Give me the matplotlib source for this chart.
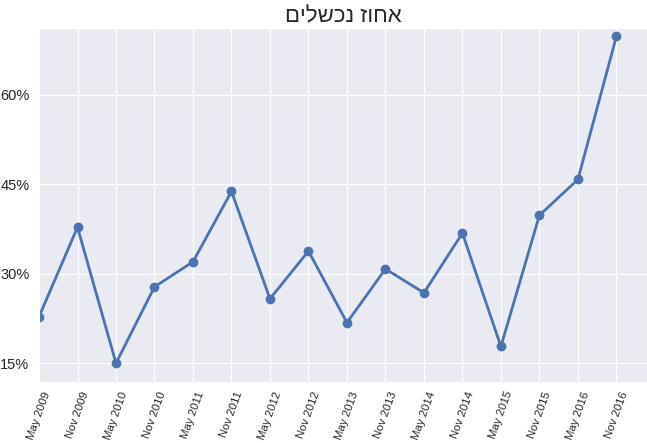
import numpy as np
import matplotlib
matplotlib.use("Agg")
import matplotlib.pyplot as plt
import seaborn as sns
from matplotlib.ticker import FuncFormatter, MultipleLocator

sns.set_style("darkgrid")
plt.rcParams['font.family'] = ['Liberation Sans', 'DejaVu Sans']

# semesters and failure percentage
labels = ['May 2009', 'Nov 2009', 'May 2010', 'Nov 2010', 'May 2011', 'Nov 2011',
          'May 2012', 'Nov 2012', 'May 2013', 'Nov 2013', 'May 2014', 'Nov 2014',
          'May 2015', 'Nov 2015', 'May 2016', 'Nov 2016']
failed = [22.8, 37.8, 15.0, 27.8, 32.0, 43.8, 25.8, 33.8,
          21.8, 30.8, 26.8, 36.8, 17.8, 39.8, 45.8, 69.8]

title = 'אחוז נכשלים'[::-1]  # matplotlib has no bidi, so reverse it

fig = plt.figure(figsize=(6.47, 4.43), dpi=100)
ax = fig.add_axes([0.0603, 0.1384, 0.94, 0.7984])

x = np.arange(len(labels))
ax.plot(x, failed, color='#4C72B0', marker='o', markersize=6, linewidth=2)

ax.set_xticks(x)
ax.set_xticklabels(labels, rotation=70, fontsize=8.2)
ax.tick_params(axis='x', pad=2.5)
ax.set_xlim(0, 15.8)
ax.set_ylim(11.9, 71.2)
ax.yaxis.set_major_locator(MultipleLocator(15))
ax.yaxis.set_major_formatter(FuncFormatter(lambda v, p: '%d%%' % v))
ax.tick_params(axis='y', labelsize=10.5)
ax.set_title(title, fontsize=16, pad=4)

fig.savefig('out.png', dpi=100)
